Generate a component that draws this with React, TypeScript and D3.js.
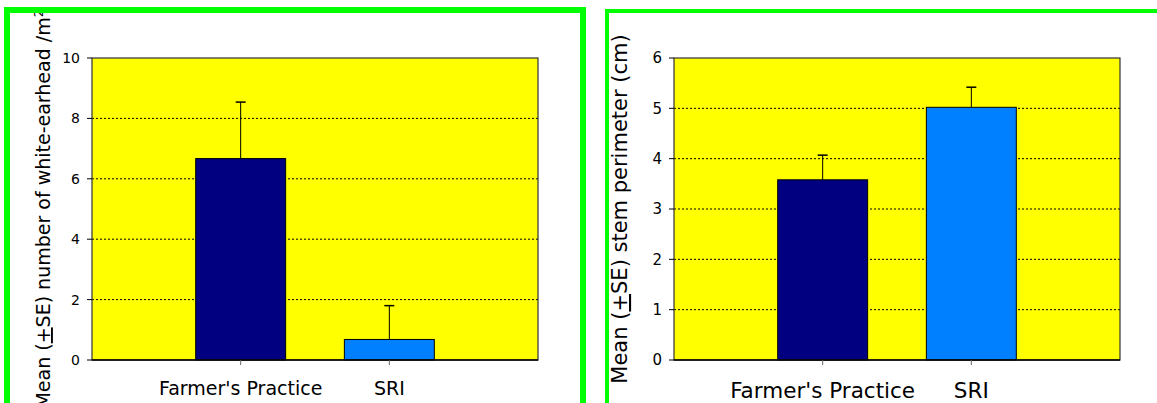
import React from 'react';
import * as d3 from 'd3';

const categories = ["Farmer's Practice", 'SRI'];
const earheadMean = [6.67, 0.68];
const earheadSE = [1.87, 1.12];
const earheadTicks = [0, 2, 4, 6, 8, 10];
const perimeterMean = [3.58, 5.02];
const perimeterSE = [0.49, 0.4];
const perimeterTicks = [0, 1, 2, 3, 4, 5, 6];
const barColors = ['#000080', '#0080FF'];

const FONT = "Tahoma, 'DejaVu Sans', sans-serif";

function Panel(props: any) {
  const { id, frame, clip, plot, means, ses, ticks, title, titleX, titleSize, labelSize, labelY, tickSize } = props;

  const x = d3.scalePoint<string>().domain(categories).range([plot.x0, plot.x1]).padding(1);
  const y = d3.scaleLinear().domain([0, d3.max(ticks) as number]).range([plot.y1, plot.y0]);
  const barW = x.step() * 0.605;
  const midY = (plot.y0 + plot.y1) / 2;

  return (
    <g>
      <defs>
        <clipPath id={id}>
          <rect x={clip.x} y={clip.y} width={clip.w} height={clip.h} />
        </clipPath>
      </defs>
      <g clipPath={`url(#${id})`}>
        <rect x={plot.x0} y={plot.y0} width={plot.x1 - plot.x0} height={plot.y1 - plot.y0} fill="#FFFF00" />
        {ticks.filter((t: number) => t > 0 && t < d3.max(ticks)!).map((t: number) => (
          <line key={t} x1={plot.x0} x2={plot.x1} y1={y(t)} y2={y(t)} stroke="#000" strokeWidth={1} strokeDasharray="2,2" />
        ))}
        {categories.map((c, i) => (
          <g key={c}>
            <line x1={x(c)} x2={x(c)} y1={y(means[i])} y2={y(means[i] + ses[i])} stroke="#000" strokeWidth={1} />
            <line x1={x(c)! - 5} x2={x(c)! + 5} y1={y(means[i] + ses[i])} y2={y(means[i] + ses[i])} stroke="#000" strokeWidth={1.5} />
            <rect x={x(c)! - barW / 2} y={y(means[i])} width={barW} height={y(0) - y(means[i])} fill={barColors[i]} stroke="#000" strokeWidth={1} />
          </g>
        ))}
        <rect x={plot.x0} y={plot.y0} width={plot.x1 - plot.x0} height={plot.y1 - plot.y0} fill="none" stroke="#333" strokeWidth={1.2} />
        <line x1={plot.x0} x2={plot.x1} y1={plot.y1} y2={plot.y1} stroke="#000" strokeWidth={1.5} />
        {ticks.map((t: number) => (
          <g key={t}>
            <line x1={plot.x0 - 5} x2={plot.x0} y1={y(t)} y2={y(t)} stroke="#000" strokeWidth={1} />
            <text x={plot.x0 - 12} y={y(t)} dy="0.36em" textAnchor="end" fontSize={tickSize} fontFamily={FONT} fill="#000">{t}</text>
          </g>
        ))}
        {categories.map((c) => (
          <g key={c}>
            <line x1={x(c)} x2={x(c)} y1={plot.y1} y2={plot.y1 + 5} stroke="#666" strokeWidth={1} />
            <text x={x(c)} y={labelY} textAnchor="middle" fontSize={labelSize} fontFamily={FONT} fill="#000">{c}</text>
          </g>
        ))}
        <text transform={`translate(${titleX},${midY}) rotate(-90)`} textAnchor="middle" fontSize={titleSize} fontFamily={FONT} fill="#000">
          {title}
        </text>
      </g>
      <path d={frame.d} fill="none" stroke="#00FF00" strokeWidth={frame.w} />
    </g>
  );
}

export default function App() {
  return (
    <div style={{ position: 'absolute', left: 0, top: 0 }}>
      <svg width={1157} height={403} style={{ display: 'block', background: '#fff' }}>
        <Panel
          id="clipL"
          frame={{ d: 'M7,410 V10 H583 V410', w: 6 }}
          clip={{ x: 10, y: 13, w: 570, h: 400 }}
          plot={{ x0: 92, x1: 538, y0: 58, y1: 360 }}
          means={earheadMean}
          ses={earheadSE}
          ticks={earheadTicks}
          title={<>Mean (<tspan textDecoration="underline">+</tspan>SE) number of white-earhead /m<tspan fontSize="0.65em" dy="-0.6em">2</tspan></>}
          titleX={50}
          titleSize={19}
          labelSize={19}
          labelY={395}
          tickSize={14}
        />
        <Panel
          id="clipR"
          frame={{ d: 'M607,410 V11 H1170', w: 4 }}
          clip={{ x: 609, y: 13, w: 560, h: 400 }}
          plot={{ x0: 674, x1: 1120, y0: 58, y1: 360 }}
          means={perimeterMean}
          ses={perimeterSE}
          ticks={perimeterTicks}
          title={<>Mean (<tspan textDecoration="underline">+</tspan>SE) stem perimeter (cm)</>}
          titleX={627}
          titleSize={21}
          labelSize={21.5}
          labelY={398}
          tickSize={15}
        />
      </svg>
    </div>
  );
}
